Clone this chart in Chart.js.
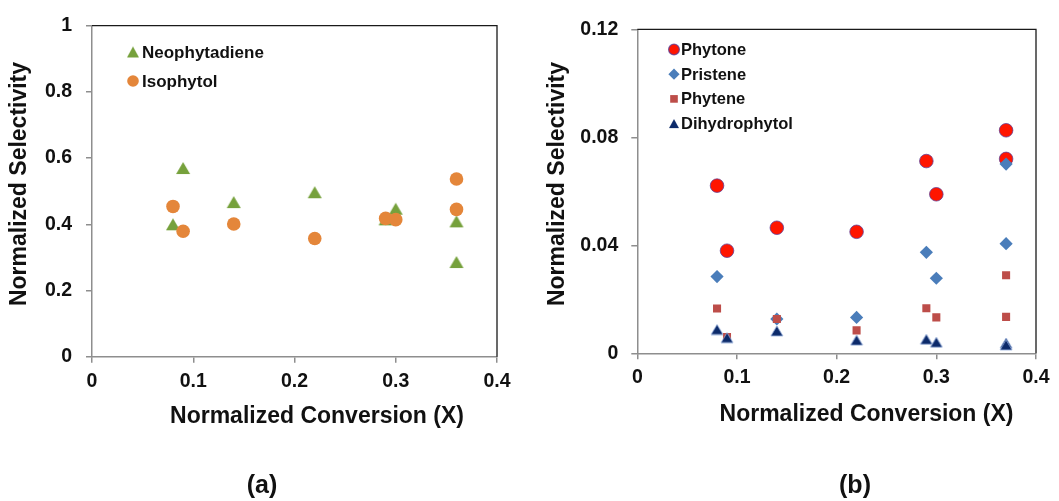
<!DOCTYPE html>
<html>
<head>
<meta charset="utf-8">
<script src="https://cdn.jsdelivr.net/npm/chart.js@4.4.0/dist/chart.umd.min.js"></script>
<style>
  body { margin: 0; background: #fff; }
  #wrap { position: relative; width: 1059px; height: 501px; }
  canvas { position: absolute; top: 0; }
  #chartA { left: 0; }
  #chartB { left: 530px; }
</style>
</head>
<body>
<div id="wrap">
  <canvas id="chartA" width="530" height="501"></canvas>
  <canvas id="chartB" width="529" height="501"></canvas>
</div>
<script>
// (a) neophytadiene / isophytol
const convA = [0.08, 0.09, 0.14, 0.22, 0.29, 0.30, 0.36, 0.36];
const neophytadiene = [0.40, 0.57, 0.467, 0.497, 0.415, 0.447, 0.409, 0.286];
const isophytol = [0.454, 0.379, 0.401, 0.357, 0.418, 0.414, 0.537, 0.445];
const yTicksA = ['0', '0.2', '0.4', '0.6', '0.8', '1'];

// (b) minor products
const convB = [0.08, 0.09, 0.14, 0.22, 0.29, 0.30, 0.37, 0.37];
const phytone = [0.0621, 0.0380, 0.0465, 0.0450, 0.0712, 0.0589, 0.0826, 0.0720];
const pristene = [0.0284, null, 0.0127, 0.0133, 0.0374, 0.0278, 0.0406, 0.0701];
const phytene = [0.0166, 0.0060, 0.0127, 0.0085, 0.0167, 0.0133, 0.0289, 0.0135];
const dihydrophytol = [0.0088, 0.0058, 0.0083, 0.0049, 0.0052, 0.0041, 0.0038, 0.0031];
const yTicksB = ['0', '0.04', '0.08', '0.12'];

const xTicks = ['0', '0.1', '0.2', '0.3', '0.4'];
const FONT = '"Liberation Sans", Arial, sans-serif';

function points(xs, ys) {
    return xs.map((x, i) => ({ x: x, y: ys[i] })).filter(p => p.y != null);
}

// triangle marker centred on its bounding box
function triangle(w, h, fill, stroke) {
    const c = document.createElement('canvas');
    c.width = w + 2;
    c.height = h + 2;
    const g = c.getContext('2d');
    g.beginPath();
    g.moveTo(c.width / 2, 1);
    g.lineTo(w + 1, h + 1);
    g.lineTo(1, h + 1);
    g.closePath();
    g.fillStyle = fill;
    g.fill();
    if (stroke) {
        g.strokeStyle = stroke;
        g.lineWidth = 1;
        g.stroke();
    }
    return c;
}

// frame, inner legend and titles
const decorations = {
    id: 'decorations',
    afterDraw(chart, args, o) {
        const ctx = chart.ctx;
        const a = chart.chartArea;
        ctx.save();
        ctx.strokeStyle = '#1a1a1a';
        ctx.lineWidth = 1.3;
        ctx.beginPath();
        ctx.moveTo(a.left, a.top);
        ctx.lineTo(a.right, a.top);
        ctx.lineTo(a.right, a.bottom);
        ctx.stroke();

        ctx.fillStyle = '#111';
        ctx.font = 'bold ' + o.legendFont + 'px ' + FONT;
        ctx.textBaseline = 'middle';
        ctx.textAlign = 'left';
        o.legend.forEach((item, i) => {
            const ds = chart.data.datasets[item.ds];
            const y = o.legendY + i * o.legendStep;
            if (item.image) {
                ctx.drawImage(item.image, o.legendX - item.image.width / 2, y - item.image.height / 2);
            } else {
                ctx.fillStyle = ds.backgroundColor;
                ctx.strokeStyle = ds.borderColor || ds.backgroundColor;
                Chart.helpers.drawPoint(ctx, {
                    pointStyle: ds.pointStyle, radius: item.radius, rotation: 0,
                    borderWidth: ds.borderWidth || 0
                }, o.legendX, y);
            }
            ctx.fillStyle = '#111';
            ctx.fillText(ds.label, o.textX, y + 1);
        });

        ctx.textAlign = 'center';
        ctx.font = 'bold 23px ' + FONT;
        ctx.fillText(o.xTitle.text, o.xTitle.x, o.xTitle.y);
        ctx.save();
        ctx.translate(o.yTitle.x, o.yTitle.y);
        ctx.rotate(-Math.PI / 2);
        ctx.fillText(o.yTitle.text, 0, 0);
        ctx.restore();
        ctx.font = 'bold 25px ' + FONT;
        ctx.fillText(o.panel.text, o.panel.x, o.panel.y);
        ctx.restore();
    }
};

function axisStyle() {
    return {
        grid: { drawOnChartArea: false, drawTicks: true, tickLength: 6, color: '#8e8e8e', lineWidth: 1.5 },
        border: { color: '#8e8e8e', width: 1.5 }
    };
}

function panel(id, datasets, o) {
    return new Chart(document.getElementById(id), {
        type: 'scatter',
        data: { datasets: datasets },
        options: {
            responsive: false,
            animation: false,
            layout: { padding: { top: o.top, right: o.right, left: 0, bottom: 0 } },
            plugins: {
                legend: { display: false },
                tooltip: { enabled: false },
                decorations: o.deco
            },
            scales: {
                x: Object.assign(axisStyle(), {
                    type: 'linear', min: 0, max: 0.4,
                    afterFit: s => { s.height = o.xHeight; },
                    ticks: {
                        stepSize: 0.1, padding: 7, color: '#111',
                        font: { family: FONT, size: 19.5, weight: 'bold' },
                        callback: (v, i) => xTicks[i]
                    }
                }),
                y: Object.assign(axisStyle(), {
                    type: 'linear', min: 0, max: o.yMax,
                    afterFit: s => { s.width = o.yWidth; },
                    ticks: {
                        stepSize: o.yStep, padding: o.yPad, color: '#111',
                        font: { family: FONT, size: 19.5, weight: 'bold' },
                        callback: (v, i) => o.yLabels[i]
                    }
                })
            }
        },
        plugins: [decorations]
    });
}

const greenTri = triangle(14, 12, '#76a13c');
const greenTriSmall = triangle(12, 11, '#76a13c');
panel('chartA', [
    {
        label: 'Neophytadiene', data: points(convA, neophytadiene),
        pointStyle: greenTri, backgroundColor: '#76a13c', order: 2
    },
    {
        label: 'Isophytol', data: points(convA, isophytol),
        pointStyle: 'circle', pointRadius: 6.8, backgroundColor: '#e4863a',
        borderColor: '#e4863a', borderWidth: 0, order: 1
    }
], {
    top: 24.5, right: 33, xHeight: 144.3, yWidth: 92,
    yMax: 1, yStep: 0.2, yPad: 14, yLabels: yTicksA,
    deco: {
        legendX: 133, legendY: 52, legendStep: 29, textX: 142, legendFont: 17,
        legend: [{ ds: 0, image: greenTriSmall }, { ds: 1, radius: 5.8 }],
        xTitle: { text: 'Normalized Conversion (X)', x: 317, y: 417 },
        yTitle: { text: 'Normalized Selectivity', x: 20, y: 184 },
        panel: { text: '(a)', x: 262, y: 486 }
    }
});

const navyTri = triangle(12, 10, '#0c2a6a', 'rgba(150,175,220,0.8)');
const navyTriSmall = triangle(10, 9, '#0c2a6a');
panel('chartB', [
    {
        label: 'Phytone', data: points(convB, phytone),
        pointStyle: 'circle', pointRadius: 6.8, backgroundColor: '#ff1500',
        borderColor: 'rgba(90,60,150,0.75)', borderWidth: 1, order: 4
    },
    {
        label: 'Pristene', data: points(convB, pristene),
        pointStyle: 'rectRot', pointRadius: 6.6, backgroundColor: '#4a7dba',
        borderColor: '#4a7dba', borderWidth: 0, order: 3
    },
    {
        label: 'Phytene', data: points(convB, phytene),
        pointStyle: 'rect', pointRadius: 5.7, backgroundColor: '#bd4d49',
        borderColor: '#bd4d49', borderWidth: 0, order: 2
    },
    {
        label: 'Dihydrophytol', data: points(convB, dihydrophytol),
        pointStyle: navyTri, backgroundColor: '#0c2a6a', order: 1
    }
], {
    top: 29.3, right: 23, xHeight: 147.7, yWidth: 107.3,
    yMax: 0.12, yStep: 0.04, yPad: 13, yLabels: yTicksB,
    deco: {
        legendX: 144, legendY: 49.5, legendStep: 24.7, textX: 151, legendFont: 16.5,
        legend: [{ ds: 0, radius: 5.4 }, { ds: 1, radius: 5.6 }, { ds: 2, radius: 5.4 }, { ds: 3, image: navyTriSmall }],
        xTitle: { text: 'Normalized Conversion (X)', x: 336.5, y: 415 },
        yTitle: { text: 'Normalized Selectivity', x: 28, y: 184 },
        panel: { text: '(b)', x: 325, y: 486 }
    }
});
</script>
</body>
</html>
